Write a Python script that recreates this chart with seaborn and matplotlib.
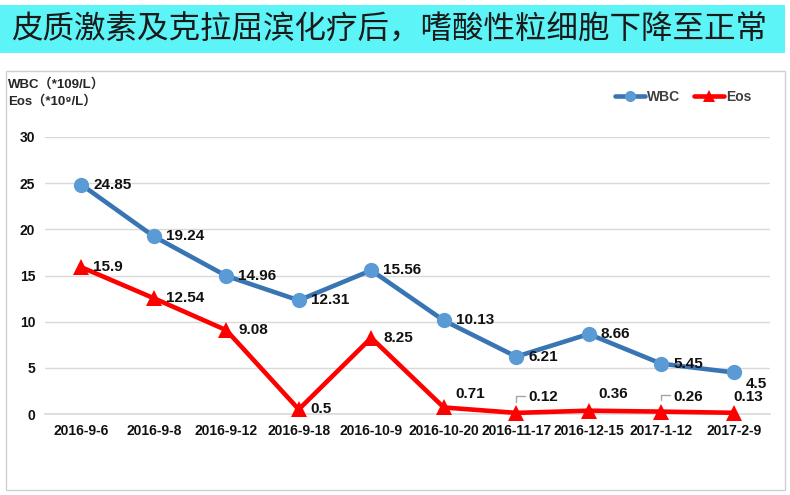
import matplotlib
matplotlib.use("Agg")
import matplotlib.pyplot as plt
import seaborn as sns
import pandas as pd
from matplotlib.patches import Rectangle
from matplotlib.lines import Line2D

dates = ["2016-9-6", "2016-9-8", "2016-9-12", "2016-9-18", "2016-10-9",
         "2016-10-20", "2016-11-17", "2016-12-15", "2017-1-12", "2017-2-9"]
wbc = [24.85, 19.24, 14.96, 12.31, 15.56, 10.13, 6.21, 8.66, 5.45, 4.5]
eos = [15.9, 12.54, 9.08, 0.5, 8.25, 0.71, 0.12, 0.36, 0.26, 0.13]
yticks = [0, 5, 10, 15, 20, 25, 30]
title = "皮质激素及克拉屈滨化疗后，嗜酸性粒细胞下降至正常"

sns.set_theme(style="white")
plt.rcParams['font.family'] = ['Liberation Sans', 'DejaVu Sans']

df = pd.DataFrame({
    "date": dates * 2,
    "value": wbc + eos,
    "series": ["WBC"] * len(dates) + ["Eos"] * len(dates),
})

fig = plt.figure(figsize=(7.9, 4.95), dpi=100)
W, H = 790, 495

# Title banner
fig.patches.append(Rectangle((0 / W, 1 - 53 / H), 785 / W, 48 / H, transform=fig.transFigure,
                             facecolor="#5CF4F6", edgecolor="none", zorder=0))
fig.text(11 / W, 1 - 30 / H, title, fontsize=22.7, fontweight="medium", color="#1a1a1a",
         va="center", ha="left", family=["Noto Sans CJK SC", "DejaVu Sans"])
# chart frame
fig.patches.append(Rectangle((6 / W, 1 - 490 / H), 779 / W, 419 / H, transform=fig.transFigure,
                             facecolor="none", edgecolor="#D0D0D0", linewidth=1.0, zorder=0))

ax = fig.add_axes([45 / W, 1 - 414 / H, 725 / W, 277 / H])
ax.set_facecolor("none")

palette = {"WBC": "#3A75B3", "Eos": "#FF0000"}
sns.lineplot(data=df, x="date", y="value", hue="series", style="series",
             markers={"WBC": "o", "Eos": "^"}, dashes=False, palette=palette,
             linewidth=3.3, markersize=11, markeredgewidth=0, ax=ax, legend=False,
             sort=False)
for ln in ax.get_lines():
    ln.set_clip_on(False)
    ln.set_zorder(3)
    if ln.get_marker() == "o":
        ln.set_markerfacecolor("#5B9BD5")
        ln.set_markeredgecolor("#5B9BD5")
    if ln.get_marker() == "^":
        ln.set_markersize(12)

ax.set_xlim(-0.5, len(dates) - 0.5)
ax.set_ylim(0, 30)
ax.set_yticks(yticks)
ax.set_yticklabels([str(t) for t in yticks])
ax.yaxis.grid(True, color="#D9D9D9", linewidth=1)
ax.set_axisbelow(True)
for s in ["top", "right", "left"]:
    ax.spines[s].set_visible(False)
ax.spines["bottom"].set_color("#D9D9D9")
ax.spines["bottom"].set_linewidth(1.2)
ax.tick_params(axis="both", length=0, labelsize=10, pad=7)
for lab in ax.get_xticklabels() + ax.get_yticklabels():
    lab.set_fontweight("bold")
    lab.set_color("#111111")
ax.set_xlabel("")
ax.set_ylabel("")

# data labels
lab_kw = dict(textcoords="offset pixels", fontsize=11, fontweight="bold", color="#111111",
              va="center", ha="left")
for i, v in enumerate(wbc):
    off = (12, 0) if i < len(dates) - 1 else (12, -12)
    ax.annotate(f"{v:g}", (i, v), xytext=off, **lab_kw)
eos_offsets = [(12, 0), (12, 0), (12, 0), (12, 0), (12, 0),
               (12, 13), (12, 16), (10, 17), (12, 15), (0, 16)]
for i, v in enumerate(eos):
    ax.annotate(f"{v:g}", (i, v), xytext=eos_offsets[i], **lab_kw)
# leader lines for the small labels
for i in (6, 8):
    ax.annotate("", xy=(i, eos[i]), xycoords="data",
                xytext=(9, 17), textcoords="offset pixels",
                arrowprops=dict(arrowstyle="-", color="#A6A6A6", lw=1,
                                shrinkA=0, shrinkB=8,
                                connectionstyle="angle,angleA=0,angleB=90,rad=0"))

# axis unit labels
fig.text(8 / W, 1 - 84 / H, "WBC（*109/L）", fontsize=9.5, fontweight="bold",
         va="center", ha="left", family=["Liberation Sans", "Noto Sans CJK SC"])
fig.text(8 / W, 1 - 101 / H, "Eos（*10⁹/L）", fontsize=9.5, fontweight="bold",
         va="center", ha="left", family=["Liberation Sans", "Noto Sans CJK SC", "DejaVu Sans"])

# legend
handles = [Line2D([], [], color="#3A75B3", lw=3.3, marker="o", markersize=8,
                  markerfacecolor="#5B9BD5", markeredgewidth=0),
           Line2D([], [], color="#FF0000", lw=3.3, marker="^", markersize=8,
                  markeredgewidth=0)]
leg = fig.legend(handles, ["WBC", "Eos"], loc="center", bbox_to_anchor=(683 / W, 1 - 97 / H),
                 ncol=2, frameon=False, handlelength=2.2, handletextpad=0.1,
                 columnspacing=1.0, prop={"weight": "bold", "size": 10})
for t in leg.get_texts():
    t.set_color("#404040")

fig.savefig("out.png", dpi=100)
